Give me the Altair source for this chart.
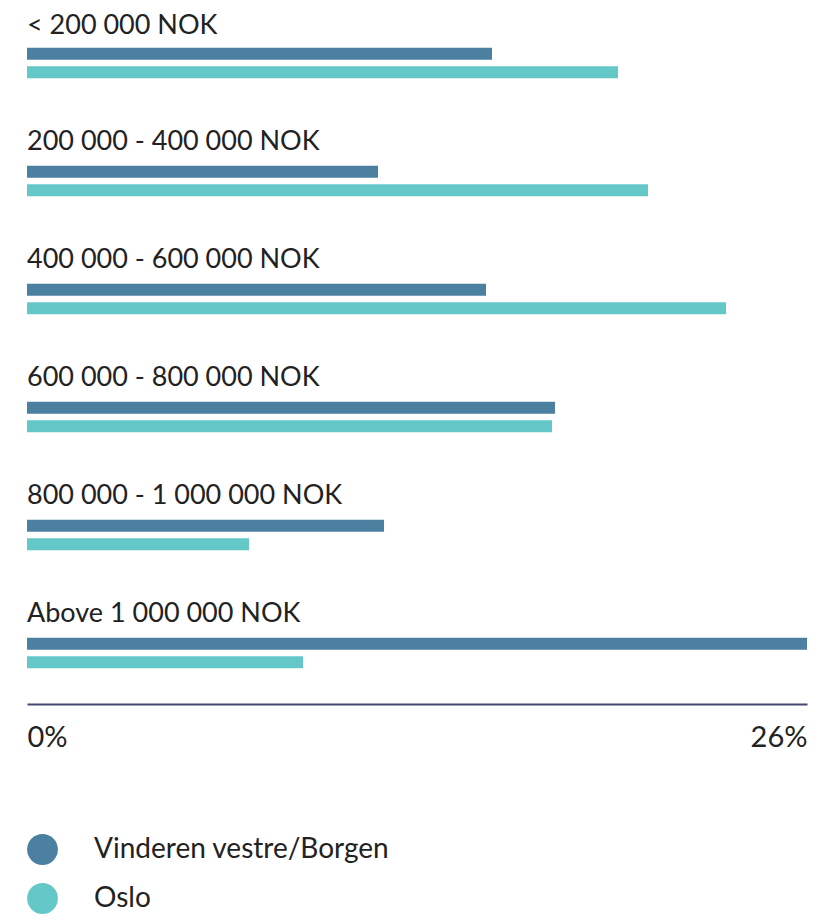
import altair as alt
import pandas as pd

categories = ["< 200 000 NOK", "200 000 - 400 000 NOK", "400 000 - 600 000 NOK",
              "600 000 - 800 000 NOK", "800 000 - 1 000 000  NOK", "Above 1 000 000 NOK"]
series = ["Vinderen vestre/Borgen", "Oslo"]
vinderen = [15.5, 11.7, 15.3, 17.6, 11.9, 26.0]
oslo = [19.7, 20.7, 23.3, 17.5, 7.4, 9.2]
colors = ["#4b80a0", "#64c8c8"]

rows = []
for c, v, o in zip(categories, vinderen, oslo):
    rows.append({"category": c, "series": series[0], "value": v})
    rows.append({"category": c, "series": series[1], "value": o})
df = pd.DataFrame(rows)

FONT = "Lato"
color_enc = alt.Color("series:N", scale=alt.Scale(domain=series, range=colors),
                      legend=alt.Legend(title=None, orient="bottom", direction="vertical",
                                        symbolType="circle", symbolSize=950,
                                        symbolStrokeWidth=0, labelFontSize=28,
                                        labelFont=FONT, labelColor="#222222",
                                        labelLimit=0,
                                        rowPadding=18, labelOffset=36, offset=82,
                                        padding=0))

panels = []
for i, c in enumerate(categories):
    last = i == len(categories) - 1
    if last:
        x_axis = alt.Axis(values=[0, 26], labelExpr="datum.value + '%'", ticks=False,
                          grid=False, domainColor="#45476f", domainWidth=2,
                          labelFontSize=29, labelFont=FONT, labelColor="#222222",
                          labelFlush=True, labelPadding=19, title=None, offset=36)
    else:
        x_axis = None
    p = alt.Chart(df[df.category == c]).mark_bar(size=12).encode(
        x=alt.X("value:Q", scale=alt.Scale(domain=[0, 26], nice=False), axis=x_axis),
        y=alt.Y("series:N", sort=series, axis=None,
                scale=alt.Scale(paddingInner=0.37, paddingOuter=0)),
        color=color_enc,
    ).properties(width=780, height=30,
                 title=alt.TitleParams(c, anchor="start", fontSize=27, font=FONT,
                                       fontWeight="normal", color="#222222",
                                       offset=8 if i == 0 else 10))
    panels.append(p)

chart = alt.vconcat(*panels, spacing=48).properties(
    padding={"left": 19, "top": 3, "right": 5, "bottom": 5}
).configure_view(stroke=None).configure_title(frame="group")

chart.save("out.html", embed_options={"renderer": "svg", "actions": False})
